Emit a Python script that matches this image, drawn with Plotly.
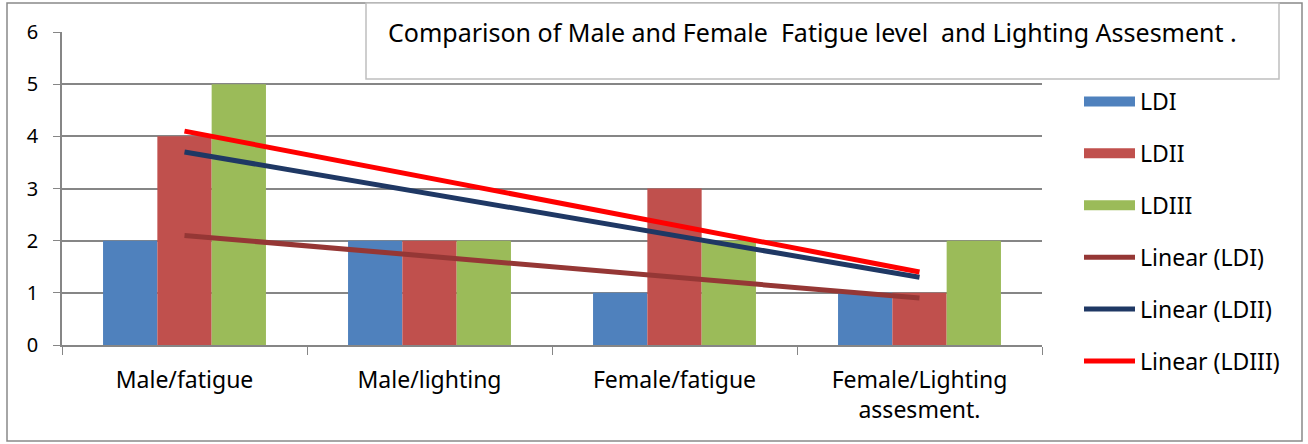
import numpy as np
import plotly.graph_objects as go

categories = ["Male/fatigue", "Male/lighting", "Female/fatigue", "Female/Lighting<br>assesment."]
ldi = [2, 2, 1, 1]
ldii = [4, 2, 3, 1]
ldiii = [5, 2, 2, 2]
series_names = ["LDI", "LDII", "LDIII"]
bar_colors = ["#4F81BD", "#C0504D", "#9BBB59"]
trend_colors = ["#953735", "#1F3864", "#FF0000"]
title_text = "Comparison of Male and Female  Fatigue level  and Lighting Assesment ."

FONT = "Noto Sans, Open Sans, sans-serif"

fig = go.Figure()
series = [ldi, ldii, ldiii]
for i, (name, vals, col) in enumerate(zip(series_names, series, bar_colors)):
    fig.add_trace(go.Bar(x=categories, y=vals, name=name, marker=dict(color=col, line=dict(width=0)),
                         showlegend=False))
    # legend swatch (wide rectangle like the original)
    fig.add_trace(go.Scatter(x=[None], y=[None], mode="lines", name=name,
                             line=dict(color=col, width=14), legendgroup=f"g{i}"))

xs = np.arange(1, len(categories) + 1)
for i, (name, vals, col) in enumerate(zip(series_names, series, trend_colors)):
    slope, intercept = np.polyfit(xs, vals, 1)
    fit = slope * xs + intercept
    fig.add_trace(go.Scatter(x=categories, y=fit, mode="lines", name=f"Linear ({name})",
                             line=dict(color=col, width=5), legendgroup=f"t{i}"))

fig.update_layout(
    width=1308, height=444,
    margin=dict(l=62, r=266, t=32, b=99),
    paper_bgcolor="white", plot_bgcolor="white",
    barmode="group", bargap=0.335, bargroupgap=0,
    font=dict(family=FONT, size=20, color="black"),
    showlegend=True,
    legend=dict(x=(1079 - 62) / 980, y=(345 - 80) / 313, xanchor="left", yanchor="top",
                traceorder="grouped", tracegroupgap=19, font=dict(size=23), itemwidth=51,
                bgcolor="rgba(0,0,0,0)"),
    xaxis=dict(type="category", showline=True, linecolor="#868686", linewidth=1.5,
               ticks="outside", tickson="boundaries", ticklen=8, tickcolor="#868686",
               showgrid=False, tickfont=dict(size=23), ticklabelstandoff=14),
    yaxis=dict(range=[0, 6], dtick=1, showline=True, linecolor="#868686", linewidth=1.5,
               ticks="outside", ticklen=7, tickcolor="#868686", showgrid=True,
               gridcolor="#868686", gridwidth=1.5, zeroline=False, tickfont=dict(size=20),
               ticklabelstandoff=11),
    shapes=[
        dict(type="rect", xref="paper", yref="paper", layer="above",
             x0=(7 - 62) / 980, x1=(1302 - 62) / 980, y0=(345 - 441) / 313, y1=(345 - 3) / 313,
             line=dict(color="#898989", width=1.5), fillcolor="rgba(0,0,0,0)"),
        dict(type="rect", xref="paper", yref="paper", layer="above",
             x0=(366 - 62) / 980, x1=(1279 - 62) / 980, y0=(345 - 79) / 313, y1=(345 - 3) / 313,
             line=dict(color="#BFBFBF", width=1.5), fillcolor="white"),
    ],
    annotations=[
        dict(text=title_text, xref="paper", yref="paper", x=(386 - 62) / 980, y=(345 - 32) / 313,
             xanchor="left", yanchor="middle", showarrow=False, font=dict(size=25, family=FONT))
    ],
)

fig.write_html("out.html", config={"displayModeBar": False},
               post_script="document.body.style.margin='0';")
